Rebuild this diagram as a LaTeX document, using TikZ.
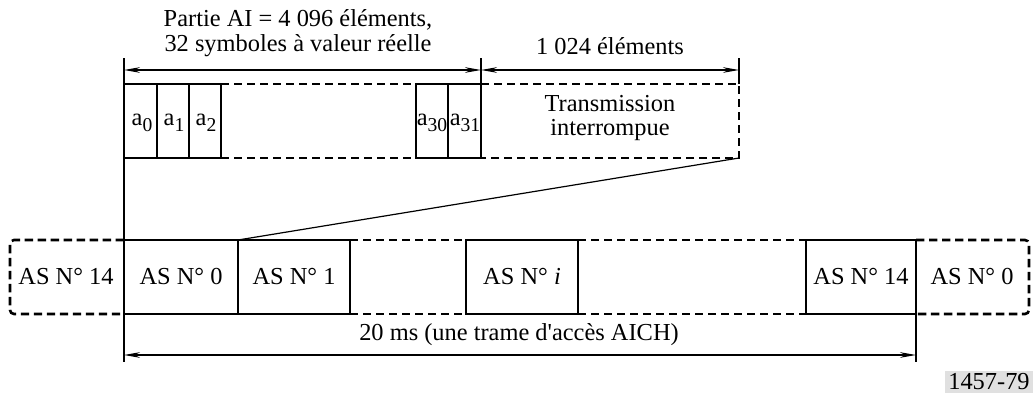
\documentclass[tikz,border=0pt]{standalone}
\usepackage{fontspec}
\setmainfont{Liberation Serif}
\usetikzlibrary{arrows.meta}
\newcommand{\asym}[1]{a\raisebox{-3.2pt}{\fontsize{9.8}{10}\selectfont #1}}
\begin{document}
\begin{tikzpicture}[x=0.5pt,y=-0.5pt,>={Stealth[length=8pt,width=2.8pt]},line width=0.6pt,
  font=\fontsize{12.2}{12.4}\selectfont,
  thick line/.style={line width=1.2pt},
  dash line/.style={line width=1.3pt,dash pattern=on 4.2pt off 2.3pt},
  lbl/.style={inner sep=0pt}]
  \useasboundingbox (0,0) rectangle (1034,396);

  % points de la rangée des symboles
  \foreach \n/\x in {a/124,b/157,c/189,d/221,e/416,f/448,g/481,h/739}{
    \coordinate (\n1) at (\x,84);
    \coordinate (\n2) at (\x,158);
  }
  % points de la rangée des AS
  \foreach \n/\x in {k/10,l/124,m/238,n/350,o/466,p/578,q/806,r/916,s/1029}{
    \coordinate (\n1) at (\x,240);
    \coordinate (\n2) at (\x,314);
  }
  % repères des cotes
  \coordinate (a0) at (124,58);
  \coordinate (g0) at (481,58);
  \coordinate (h0) at (739,58);
  \coordinate (a4) at (124,70);
  \coordinate (g4) at (481,70);
  \coordinate (h4) at (739,70);
  \coordinate (l3) at (124,362);
  \coordinate (r3) at (916,362);
  \coordinate (l4) at (124,355);
  \coordinate (r4) at (916,355);

  % rangée des symboles
  \draw (d1) -- (a1) -- (a2) -- (d2) -- cycle;
  \draw (e1) -- (g1) -- (g2) -- (e2) -- cycle;
  \draw[thick line] (b1) -- (b2) (c1) -- (c2) (f1) -- (f2);
  \draw[dash line] (d1) -- (e1) (d2) -- (e2);
  \draw[dash line] (g1) -- (h1) -- (h2) -- (g2);

  % cotes du haut
  \draw (a0) -- (l3);
  \draw (g0) -- (g1);
  \draw (h0) -- (h1);
  \draw[<->] (a4) -- (g4);
  \draw[<->] (g4) -- (h4);

  % rangée des AS
  \draw[dash line,rounded corners=2pt] (l1) -- (k1) -- (k2) -- (l2);
  \draw (l1) -- (n1) -- (n2) -- (l2);
  \draw[thick line] (m1) -- (m2);
  \draw[dash line] (n1) -- (o1) (n2) -- (o2);
  \draw (o1) rectangle (p2);
  \draw[dash line] (p1) -- (q1) (p2) -- (q2);
  \draw (q1) rectangle (r2);
  \draw[dash line,rounded corners=2pt] (r1) -- (s1) -- (s2) -- (r2);
  \draw (r2) -- (r3);
  \draw (h2) -- (m1);
  \draw[<->] (l4) -- (r4);

  % textes
  \node[lbl,align=center] (partie) at (298,33) {Partie AI = 4 096 éléments,\\32 symboles à valeur réelle};
  \node[lbl] (reste) at (610,46) {1 024 éléments};
  \node[lbl,align=center] (trans) at (610,118) {Transmission\\interrompue};
  \node[lbl] (s0) at (142,123) {\asym{0}};
  \node[lbl] (s1) at (174,123) {\asym{1}};
  \node[lbl] (s2) at (206,123) {\asym{2}};
  \node[lbl] (s30) at (432,123) {\asym{30}};
  \node[lbl] (s31) at (465,123) {\asym{31}};
  \node[lbl] (asg) at (66,277) {AS N° 14};
  \node[lbl] (as0) at (181,277) {AS N° 0};
  \node[lbl] (as1) at (294,277) {AS N° 1};
  \node[lbl] (asi) at (522,277) {AS N° \textit{i}};
  \node[lbl] (as14) at (861,277) {AS N° 14};
  \node[lbl] (asd) at (972,277) {AS N° 0};
  \node[lbl] (trame) at (519,335) {20 ms (une trame d\textquotesingle accès AICH)};
  \node[fill=black!12,inner sep=1.5pt] (ref) at (989,382) {1457-79};
\end{tikzpicture}
\end{document}
